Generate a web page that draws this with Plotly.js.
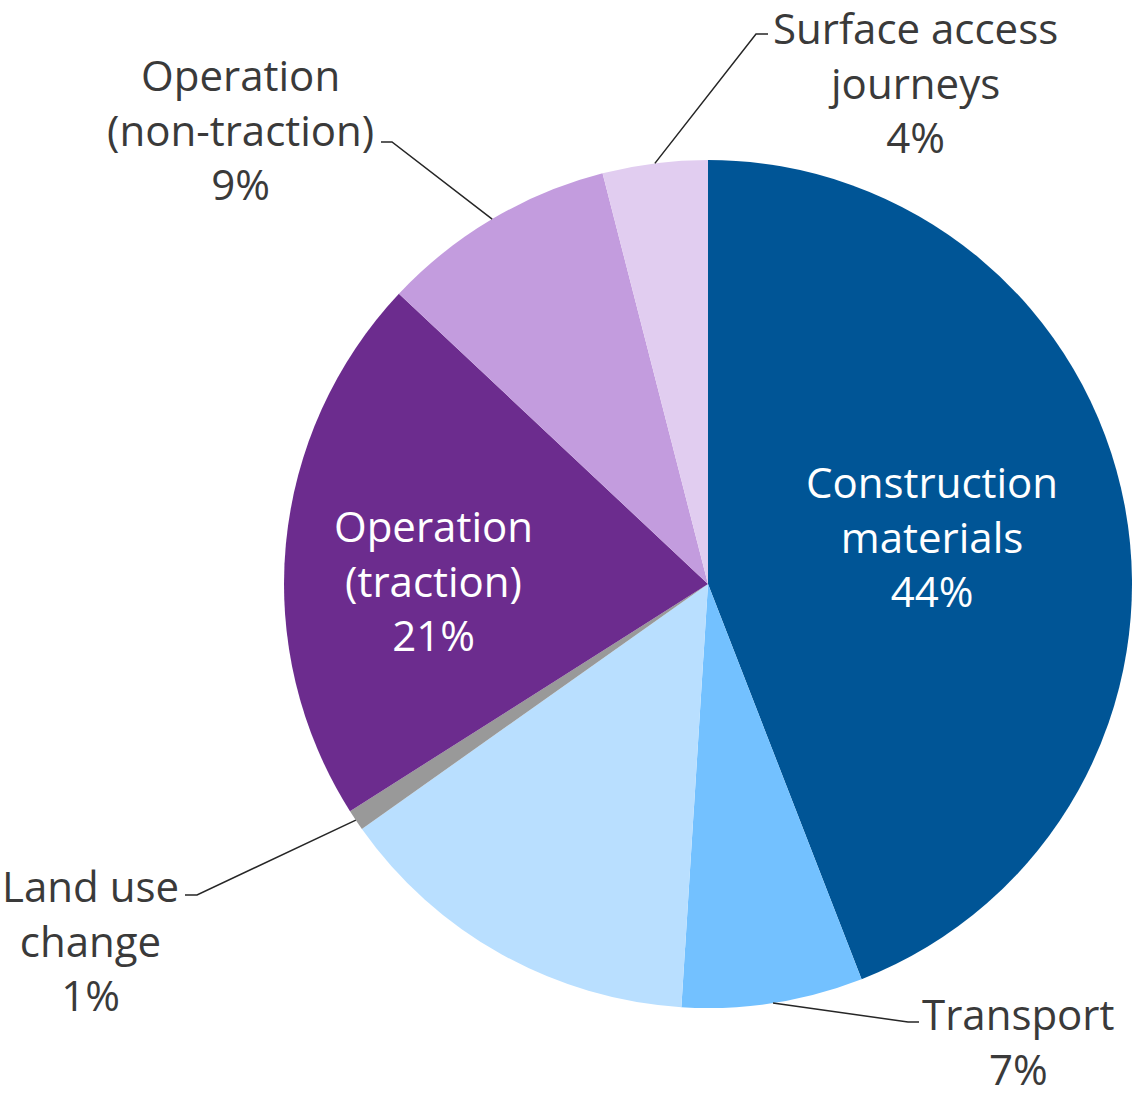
<!DOCTYPE html>
<html>
<head>
<meta charset="utf-8">
<script src="https://cdn.plot.ly/plotly-3.0.1.min.js"></script>
<style>
  html, body { margin: 0; padding: 0; background: #ffffff; }
  #chart { width: 1132px; height: 1098px; }
</style>
</head>
<body>
<div id="chart"></div>
<script>
// ---- Data ----
const categories = [
  "Construction materials",
  "Transport",
  "Construction (other)",
  "Land use change",
  "Operation (traction)",
  "Operation (non-traction)",
  "Surface access journeys"
];
const shares = [44.1, 6.9, 14.2, 0.8, 21.0, 9.0, 4.0];
const displayNames = [
  "Construction<br>materials",
  "Transport",
  null,
  "Land use<br>change",
  "Operation<br>(traction)",
  "Operation<br>(non-traction)",
  "Surface access<br>journeys"
];
const sliceColors = ["#005596", "#73c1ff", "#b9dfff", "#999999", "#6c2c8e", "#c39cde", "#e1cdf0"];

// ---- Layout geometry (style) ----
const W = 1132, H = 1098;
const M = { l: 284, r: 0, t: 160, b: 90 };
const PW = W - M.l - M.r, PH = H - M.t - M.b;
const R = Math.min(PW, PH) / 2;
const CX = M.l + PW / 2, CY = M.t + PH / 2;
const px2x = p => (p - M.l) / PW;
const px2y = p => 1 - (p - M.t) / PH;

// label placement (pixel centers) and leader elbows (style)
const labelStyle = [
  { x: 932, y: 536, inside: true },
  { x: 1018, y: 1041, elbow: [908, 1022], end: [919, 1022] },
  null,
  { x: 90, y: 940, elbow: [197, 895], end: [185, 895] },
  { x: 433, y: 580, inside: true },
  { x: 240, y: 129, elbow: [392, 142], end: [381, 142] },
  { x: 915, y: 82, elbow: [756, 34], end: [768, 34] }
];

const total = shares.reduce((a, b) => a + b, 0);
const annotations = [];
const shapes = [];
let cum = 0;
shares.forEach((v, i) => {
  const midFrac = (cum + v / 2) / total;
  cum += v;
  const st = labelStyle[i];
  if (!st || !displayNames[i]) return;
  const pct = Math.round(v / total * 100) + "%";
  annotations.push({
    x: px2x(st.x), y: px2y(st.y), xref: "paper", yref: "paper",
    xanchor: "center", yanchor: "middle", showarrow: false, align: "center",
    text: displayNames[i] + "<br>" + pct,
    font: { family: "Open Sans, sans-serif", size: 42, color: st.inside ? "#ffffff" : "#3a3a3a" }
  });
  if (!st.inside) {
    const ang = midFrac * 2 * Math.PI; // clockwise from 12 o'clock
    const sx = CX + R * Math.sin(ang), sy = CY - R * Math.cos(ang);
    shapes.push({
      type: "path", xref: "paper", yref: "paper",
      path: `M ${px2x(sx)},${px2y(sy)} L ${px2x(st.elbow[0])},${px2y(st.elbow[1])} L ${px2x(st.end[0])},${px2y(st.end[1])}`,
      line: { color: "#262626", width: 1.5 }
    });
  }
});

const trace = {
  type: "pie",
  labels: categories,
  values: shares,
  sort: false,
  direction: "clockwise",
  rotation: 0,
  textinfo: "none",
  hoverinfo: "label+percent",
  marker: { colors: sliceColors, line: { width: 0 } },
  showlegend: false
};

const layout = {
  width: W, height: H,
  margin: M,
  paper_bgcolor: "#ffffff",
  plot_bgcolor: "#ffffff",
  showlegend: false,
  annotations: annotations,
  shapes: shapes
};

Plotly.newPlot("chart", [trace], layout, { displayModeBar: false, staticPlot: true });
</script>
</body>
</html>
